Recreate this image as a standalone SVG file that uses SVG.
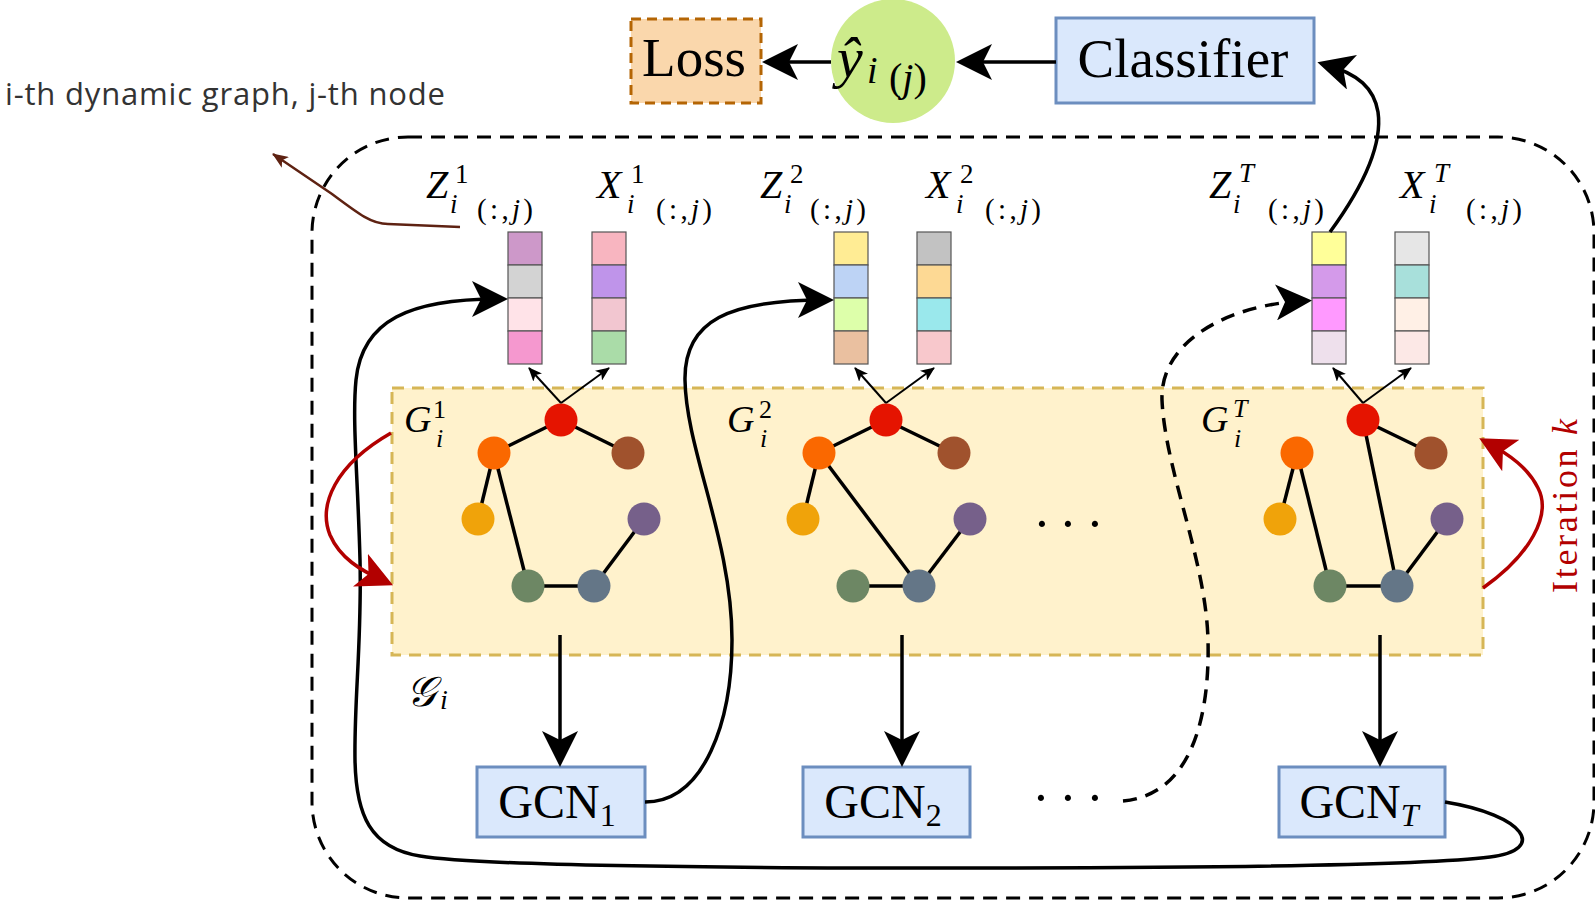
<svg xmlns="http://www.w3.org/2000/svg" width="1595" height="900" viewBox="0 0 1595 900">
  <style>
    .math { font-family: "Liberation Serif", "DejaVu Serif", serif; fill: #000; }
    .it { font-style: italic; }
    .box-blue { fill: #dae8fc; stroke: #6c8ebf; stroke-width: 3; }
    .conn { fill: none; stroke: #000; stroke-width: 3.5; }
    .thin { fill: none; stroke: #000; stroke-width: 2; }
    .edge { stroke: #000; stroke-width: 3.5; }
    .cell { stroke: #555; stroke-width: 1.2; }
    .n-red { fill: #e51400; }
    .n-orange { fill: #fa6800; }
    .n-brown { fill: #a0522d; }
    .n-gold { fill: #f0a30a; }
    .n-purple { fill: #76608a; }
    .n-green { fill: #6d8764; }
    .n-slate { fill: #647687; }
  </style>
  <defs>
    <marker id="big" viewBox="0 0 36 36" refX="26" refY="18" markerWidth="36" markerHeight="36" orient="auto" markerUnits="userSpaceOnUse">
      <path d="M0,0 L36,18 L0,36 L9,18 Z" fill="#000"/>
    </marker>
    <marker id="bigRed" viewBox="0 0 36 36" refX="26" refY="18" markerWidth="36" markerHeight="36" orient="auto" markerUnits="userSpaceOnUse">
      <path d="M0,0 L36,18 L0,36 L9,18 Z" fill="#b20000"/>
    </marker>
    <marker id="small" viewBox="0 0 14 12" refX="13" refY="6" markerWidth="14" markerHeight="12" orient="auto" markerUnits="userSpaceOnUse">
      <path d="M0,0 L14,6 L0,12 L3.5,6 Z" fill="#000"/>
    </marker>
    <marker id="brownHead" viewBox="0 0 16 13" refX="15" refY="6.5" markerWidth="16" markerHeight="13" orient="auto" markerUnits="userSpaceOnUse">
      <path d="M0,0 L16,6.5 L0,13 L4,6.5 Z" fill="#5e2212"/>
    </marker>
  </defs>

  <rect width="1595" height="900" fill="#fff"/>

  <!-- annotation text and pointer -->
  <g id="annotation">
    <text x="5" y="105" font-family="'Open Sans', 'Liberation Sans', sans-serif" font-size="31" fill="#333" textLength="440" lengthAdjust="spacing">i-th dynamic graph, j-th node</text>
    <path d="M460,227 L388,224 C372,224 360,215 332,194 L273,154" fill="none" stroke="#5e2212" stroke-width="2.5" marker-end="url(#brownHead)"/>
  </g>

  <!-- outer dashed frame around the temporal pipeline -->
  <g id="frame">
    <rect x="312" y="137" width="1282" height="761" rx="96" ry="96" fill="none" stroke="#000" stroke-width="3" stroke-dasharray="14 9"/>
  </g>

  <!-- dynamic graph container G_i -->
  <g id="graph-container">
    <rect x="392" y="388" width="1091" height="267" fill="#fff2cc" stroke="#d6b656" stroke-width="3" stroke-dasharray="12 8"/>
    <text class="math" x="406" y="706" font-size="42" font-family="'DejaVu Serif', 'Liberation Serif', serif" font-style="italic">𝒢</text>
    <text class="math it" x="440" y="709" font-size="28">i</text>
  </g>

  <!-- snapshot 1 -->
  <g id="snapshot-1">
    <text class="math it" x="404" y="432" font-size="38">G</text>
    <text class="math" x="433" y="418" font-size="26">1</text>
    <text class="math it" x="436" y="447" font-size="26">i</text>
    <line class="edge" x1="561" y1="420" x2="494" y2="453"/>
    <line class="edge" x1="561" y1="420" x2="628" y2="453"/>
    <line class="edge" x1="494" y1="453" x2="478" y2="519"/>
    <line class="edge" x1="494" y1="453" x2="528" y2="586"/>
    <line class="edge" x1="528" y1="586" x2="594" y2="586"/>
    <line class="edge" x1="594" y1="586" x2="644" y2="519"/>
    <circle class="n-red" cx="561" cy="420" r="16.5"/>
    <circle class="n-orange" cx="494" cy="453" r="16.5"/>
    <circle class="n-brown" cx="628" cy="453" r="16.5"/>
    <circle class="n-gold" cx="478" cy="519" r="16.5"/>
    <circle class="n-purple" cx="644" cy="519" r="16.5"/>
    <circle class="n-green" cx="528" cy="586" r="16.5"/>
    <circle class="n-slate" cx="594" cy="586" r="16.5"/>
  </g>

  <!-- snapshot 2 -->
  <g id="snapshot-2">
    <text class="math it" x="727" y="432" font-size="38">G</text>
    <text class="math" x="759" y="418" font-size="26">2</text>
    <text class="math it" x="760" y="447" font-size="26">i</text>
    <line class="edge" x1="886" y1="420" x2="819" y2="453"/>
    <line class="edge" x1="886" y1="420" x2="954" y2="453"/>
    <line class="edge" x1="819" y1="453" x2="803" y2="519"/>
    <line class="edge" x1="819" y1="453" x2="919" y2="586"/>
    <line class="edge" x1="853" y1="586" x2="919" y2="586"/>
    <line class="edge" x1="919" y1="586" x2="970" y2="519"/>
    <circle class="n-red" cx="886" cy="420" r="16.5"/>
    <circle class="n-orange" cx="819" cy="453" r="16.5"/>
    <circle class="n-brown" cx="954" cy="453" r="16.5"/>
    <circle class="n-gold" cx="803" cy="519" r="16.5"/>
    <circle class="n-purple" cx="970" cy="519" r="16.5"/>
    <circle class="n-green" cx="853" cy="586" r="16.5"/>
    <circle class="n-slate" cx="919" cy="586" r="16.5"/>
  </g>

  <text class="math" x="1042 1068 1095" y="541" font-size="52" text-anchor="middle">···</text>

  <!-- snapshot T -->
  <g id="snapshot-T">
    <text class="math it" x="1201" y="432" font-size="38">G</text>
    <text class="math it" x="1233" y="417" font-size="26">T</text>
    <text class="math it" x="1234" y="447" font-size="26">i</text>
    <line class="edge" x1="1363" y1="420" x2="1431" y2="453"/>
    <line class="edge" x1="1363" y1="420" x2="1397" y2="586"/>
    <line class="edge" x1="1297" y1="453" x2="1280" y2="519"/>
    <line class="edge" x1="1297" y1="453" x2="1330" y2="586"/>
    <line class="edge" x1="1330" y1="586" x2="1397" y2="586"/>
    <line class="edge" x1="1397" y1="586" x2="1447" y2="519"/>
    <circle class="n-red" cx="1363" cy="420" r="16.5"/>
    <circle class="n-orange" cx="1297" cy="453" r="16.5"/>
    <circle class="n-brown" cx="1431" cy="453" r="16.5"/>
    <circle class="n-gold" cx="1280" cy="519" r="16.5"/>
    <circle class="n-purple" cx="1447" cy="519" r="16.5"/>
    <circle class="n-green" cx="1330" cy="586" r="16.5"/>
    <circle class="n-slate" cx="1397" cy="586" r="16.5"/>
  </g>

  <!-- feature vectors -->
  <g id="Z1">
    <text class="math it" x="426" y="198" font-size="40">Z</text>
    <text class="math" x="455" y="183" font-size="27">1</text>
    <text class="math it" x="450" y="213" font-size="27">i</text>
    <text class="math" x="477" y="219" font-size="29" textLength="56" lengthAdjust="spacing">(:,<tspan class="it">j</tspan>)</text>
    <rect class="cell" x="508" y="232" width="34" height="33" fill="#cd98c9"/>
    <rect class="cell" x="508" y="265" width="34" height="33" fill="#d3d3d3"/>
    <rect class="cell" x="508" y="298" width="34" height="33" fill="#ffe3e8"/>
    <rect class="cell" x="508" y="331" width="34" height="33" fill="#f598cf"/>
  </g>
  <g id="X1">
    <text class="math it" x="597" y="198" font-size="40">X</text>
    <text class="math" x="631" y="183" font-size="27">1</text>
    <text class="math it" x="627" y="213" font-size="27">i</text>
    <text class="math" x="656" y="219" font-size="29" textLength="56" lengthAdjust="spacing">(:,<tspan class="it">j</tspan>)</text>
    <rect class="cell" x="592" y="232" width="34" height="33" fill="#f8b5c0"/>
    <rect class="cell" x="592" y="265" width="34" height="33" fill="#bf94ea"/>
    <rect class="cell" x="592" y="298" width="34" height="33" fill="#f2c6d0"/>
    <rect class="cell" x="592" y="331" width="34" height="33" fill="#aadca8"/>
  </g>
  <g id="Z2">
    <text class="math it" x="760" y="198" font-size="40">Z</text>
    <text class="math" x="790" y="183" font-size="27">2</text>
    <text class="math it" x="784" y="213" font-size="27">i</text>
    <text class="math" x="810" y="219" font-size="29" textLength="56" lengthAdjust="spacing">(:,<tspan class="it">j</tspan>)</text>
    <rect class="cell" x="834" y="232" width="34" height="33" fill="#ffec94"/>
    <rect class="cell" x="834" y="265" width="34" height="33" fill="#bdd3f5"/>
    <rect class="cell" x="834" y="298" width="34" height="33" fill="#ddffaa"/>
    <rect class="cell" x="834" y="331" width="34" height="33" fill="#eac0a0"/>
  </g>
  <g id="X2">
    <text class="math it" x="926" y="198" font-size="40">X</text>
    <text class="math" x="960" y="183" font-size="27">2</text>
    <text class="math it" x="956" y="213" font-size="27">i</text>
    <text class="math" x="985" y="219" font-size="29" textLength="56" lengthAdjust="spacing">(:,<tspan class="it">j</tspan>)</text>
    <rect class="cell" x="917" y="232" width="34" height="33" fill="#c2c2c2"/>
    <rect class="cell" x="917" y="265" width="34" height="33" fill="#fdd994"/>
    <rect class="cell" x="917" y="298" width="34" height="33" fill="#9ae8ec"/>
    <rect class="cell" x="917" y="331" width="34" height="33" fill="#f8c8cc"/>
  </g>
  <g id="ZT">
    <text class="math it" x="1209" y="198" font-size="40">Z</text>
    <text class="math it" x="1239" y="182" font-size="27">T</text>
    <text class="math it" x="1233" y="213" font-size="27">i</text>
    <text class="math" x="1268" y="219" font-size="29" textLength="56" lengthAdjust="spacing">(:,<tspan class="it">j</tspan>)</text>
    <rect class="cell" x="1312" y="232" width="34" height="33" fill="#ffff99"/>
    <rect class="cell" x="1312" y="265" width="34" height="33" fill="#d49aea"/>
    <rect class="cell" x="1312" y="298" width="34" height="33" fill="#ff99ff"/>
    <rect class="cell" x="1312" y="331" width="34" height="33" fill="#eee0ec"/>
  </g>
  <g id="XT">
    <text class="math it" x="1400" y="198" font-size="40">X</text>
    <text class="math it" x="1434" y="182" font-size="27">T</text>
    <text class="math it" x="1429" y="213" font-size="27">i</text>
    <text class="math" x="1466" y="219" font-size="29" textLength="56" lengthAdjust="spacing">(:,<tspan class="it">j</tspan>)</text>
    <rect class="cell" x="1395" y="232" width="34" height="33" fill="#e6e6e6"/>
    <rect class="cell" x="1395" y="265" width="34" height="33" fill="#a8e0db"/>
    <rect class="cell" x="1395" y="298" width="34" height="33" fill="#fff0e6"/>
    <rect class="cell" x="1395" y="331" width="34" height="33" fill="#fce8e6"/>
  </g>

  <!-- GCN blocks -->
  <g id="GCN1">
    <rect class="box-blue" x="477" y="767" width="168" height="70"/>
    <text class="math" x="557" y="818" font-size="48" text-anchor="middle">GCN<tspan font-size="32" dy="8">1</tspan></text>
  </g>
  <g id="GCN2">
    <rect class="box-blue" x="803" y="767" width="167" height="70"/>
    <text class="math" x="883" y="818" font-size="48" text-anchor="middle">GCN<tspan font-size="32" dy="8">2</tspan></text>
  </g>
  <text class="math" x="1041 1068 1095" y="815" font-size="52" text-anchor="middle">···</text>
  <g id="GCNT">
    <rect class="box-blue" x="1279" y="767" width="166" height="70"/>
    <text class="math" x="1359" y="818" font-size="48" text-anchor="middle">GCN<tspan class="it" font-size="32" dy="8">T</tspan></text>
  </g>

  <!-- output head -->
  <g id="classifier">
    <rect class="box-blue" x="1056" y="18" width="258" height="85"/>
    <text class="math" x="1183" y="77" font-size="55" text-anchor="middle">Classifier</text>
  </g>
  <g id="prediction">
    <circle cx="893" cy="61" r="62" fill="#cdeb8b"/>
    <text class="math it" x="837" y="77" font-size="58">ŷ</text>
    <text class="math it" x="867" y="83" font-size="38">i</text>
    <text class="math" x="889" y="91" font-size="40">(<tspan class="it">j</tspan>)</text>
  </g>
  <g id="loss">
    <rect x="631" y="19" width="130" height="84" fill="#fad7ac" stroke="#b46504" stroke-width="3" stroke-dasharray="10 6"/>
    <text class="math" x="694" y="76" font-size="55" text-anchor="middle">Loss</text>
  </g>

  <!-- connectors -->
  <g id="connectors">
    <path class="conn" d="M1056,62 L966,62" marker-end="url(#big)"/>
    <path class="conn" d="M831,62 L772,62" marker-end="url(#big)"/>
    <path class="conn" d="M1330,232 C1368,180 1382,140 1378,112 C1374,88 1358,74 1327,65" marker-end="url(#big)"/>

    <path class="thin" d="M561,403 L529,368" marker-end="url(#small)"/>
    <path class="thin" d="M561,403 L609,368" marker-end="url(#small)"/>
    <path class="thin" d="M886,403 L855,368" marker-end="url(#small)"/>
    <path class="thin" d="M886,403 L934,368" marker-end="url(#small)"/>
    <path class="thin" d="M1363,403 L1333,368" marker-end="url(#small)"/>
    <path class="thin" d="M1363,403 L1411,368" marker-end="url(#small)"/>

    <path class="conn" d="M560,635 L560,757" marker-end="url(#big)"/>
    <path class="conn" d="M902,635 L902,757" marker-end="url(#big)"/>
    <path class="conn" d="M1380,635 L1380,757" marker-end="url(#big)"/>

    <path class="conn" d="M645,802 C705,802 732,720 732,640 C732,540 686,450 685,380 C684,320 730,300 824,300" marker-end="url(#big)"/>
    <path class="conn" d="M1445,802 C1525,815 1548,850 1490,857 C1420,866 1200,868 950,868 C700,868 480,866 420,856 C370,848 356,815 355,760 C354,700 362,640 360,560 C358,480 352,420 356,380 C362,320 410,299 498,299" marker-end="url(#big)"/>
    <path class="conn" d="M1123,801 C1190,795 1210,720 1208,640 C1206,560 1165,470 1162,400 C1160,340 1230,305 1302,301" stroke-dasharray="14 9" marker-end="url(#big)"/>

    <path d="M391,433 C335,465 318,505 330,535 C340,558 360,570 384,581" fill="none" stroke="#b20000" stroke-width="3.5" marker-end="url(#bigRed)"/>
    <path d="M1483,588 C1530,555 1552,515 1538,488 C1528,468 1510,455 1488,443" fill="none" stroke="#b20000" stroke-width="3.5" marker-end="url(#bigRed)"/>
  </g>

  <g id="iteration-label">
    <text class="math" transform="translate(1577,506) rotate(-90)" font-size="36" fill="#b20000" style="fill:#b20000" text-anchor="middle" textLength="174" lengthAdjust="spacing">Iteration <tspan class="it" style="fill:#b20000">k</tspan></text>
  </g>
</svg>
